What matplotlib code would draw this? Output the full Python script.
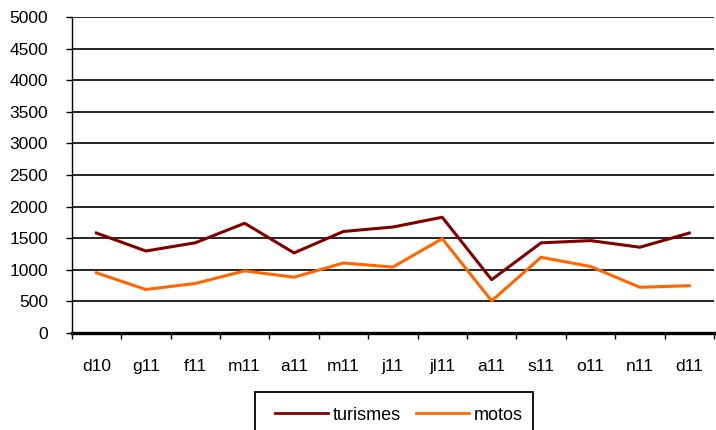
import matplotlib
matplotlib.use("agg")
import matplotlib.pyplot as plt
from matplotlib.patches import Rectangle
import numpy as np

plt.rcParams['font.family'] = ['Liberation Sans', 'DejaVu Sans']

months = ['d10', 'g11', 'f11', 'm11', 'a11', 'm11', 'j11', 'jl11', 'a11', 's11', 'o11', 'n11', 'd11']
turismes = [1580, 1295, 1425, 1735, 1265, 1605, 1675, 1830, 840, 1425, 1460, 1355, 1580]
motos = [950, 685, 780, 980, 880, 1105, 1040, 1490, 505, 1195, 1050, 720, 745]

fig = plt.figure(figsize=(7.16, 4.30), dpi=100)
ax = fig.add_axes([71.7/716, 1-332.7/430, (714-71.7)/716, (332.7-17.3)/430])

x = np.arange(len(months))
ax.plot(x, turismes, color='#800000', lw=2.2, label='turismes', zorder=3)
ax.plot(x, motos, color='#FF6600', lw=2.2, label='motos', zorder=3)

ax.set_ylim(0, 5000)
ax.set_xlim(-0.5, len(months)-0.5)
ax.set_yticks(np.arange(0, 5001, 500))
ax.yaxis.grid(True, color='black', lw=1.2)
ax.set_axisbelow(True)

# ticks between categories, labels at centres
ax.set_xticks(np.arange(-0.5, len(months), 1.0))
ax.set_xticklabels([])
ax.set_xticks(x, minor=True)
ax.set_xticklabels(months, minor=True)
ax.tick_params(axis='x', which='major', direction='out', length=4, width=1, color='black')
ax.tick_params(axis='x', which='minor', length=0, pad=19, labelsize=12.5)
ax.tick_params(axis='y', direction='out', length=4, width=1, pad=13, labelsize=12.5)

ax.spines['top'].set_visible(False)
ax.spines['right'].set_visible(False)
ax.spines['left'].set_linewidth(1.0)
ax.spines['bottom'].set_linewidth(2.4)
ax.spines['bottom'].set_zorder(4)

# legend without frame, box drawn separately (cut by the bottom edge)
leg = fig.legend(loc='center left', bbox_to_anchor=(275/716, 1-415/430), ncol=2,
                 fontsize=13, frameon=False, handlelength=2.93, handletextpad=0.28,
                 columnspacing=0.83, borderpad=0, borderaxespad=0)
for h in leg.get_lines():
    h.set_linewidth(2)
fig.patches.append(Rectangle((255/716, -0.05), (533-255)/716, (1-392/430)+0.05,
                             transform=fig.transFigure, fill=False, lw=1.3, ec='black'))

fig.savefig('out.png', dpi=100)
